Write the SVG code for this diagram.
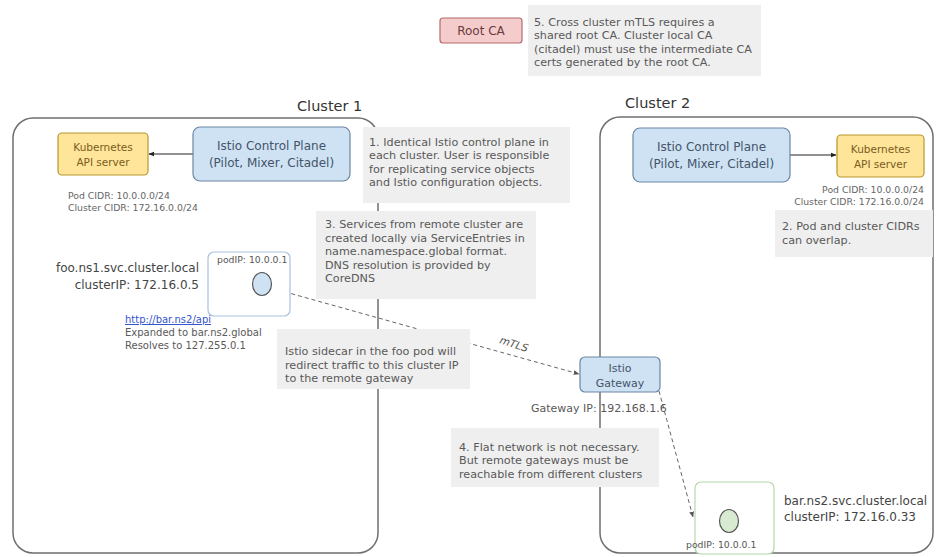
<svg xmlns="http://www.w3.org/2000/svg" width="936" height="557" viewBox="0 0 936 557">
<defs>
<marker id="arr" viewBox="0 0 10 10" refX="9" refY="5" markerWidth="6" markerHeight="6" orient="auto"><path d="M0,1 L10,5 L0,9 z" fill="#222"/></marker>
<marker id="arrd" viewBox="0 0 10 10" refX="9" refY="5" markerWidth="6" markerHeight="6" orient="auto"><path d="M0,1 L10,5 L0,9 z" fill="#555"/></marker>
</defs>
<style>
text{font-family:"DejaVu Sans","Open Sans",sans-serif}
.cl{fill:none;stroke:#6f6f6f;stroke-width:1.5}
.note{fill:#efefef}
.nt{font-size:11.2px;fill:#595959}
.blue{fill:#cfe2f3;stroke:#6a86a6;stroke-width:1.2}
.bt{font-size:12px;fill:#44546a;text-anchor:middle}
.yel{fill:#ffe599;stroke:#b8962e;stroke-width:1.2}
.yt{font-size:10.5px;fill:#7a5c1e;text-anchor:middle}
.cidr{font-size:9.3px;fill:#666}
.svc{font-size:12px;fill:#444}
.lbl{font-size:14.5px;fill:#333}
.pod{fill:#fff;stroke-width:1.2}
.sm{font-size:10px;fill:#595959}
.dash{fill:none;stroke:#666;stroke-width:1;stroke-dasharray:4,3}
.solid{fill:none;stroke:#222;stroke-width:1}
</style>
<rect width="936" height="557" fill="#fff"/>

<g id="cluster1">
<rect class="cl" x="13" y="118" width="365" height="435" rx="20"/>
<text class="lbl" x="297" y="111">Cluster 1</text>
</g>
<g id="cluster2">
<rect class="cl" x="600" y="117" width="333" height="436" rx="20"/>
<text class="lbl" x="625" y="108">Cluster 2</text>
</g>

<g id="connectors">
<line class="solid" x1="193" y1="154" x2="149" y2="154" marker-end="url(#arr)"/>
<line class="solid" x1="790" y1="155" x2="836" y2="155" marker-end="url(#arr)"/>
<line class="dash" x1="271" y1="288" x2="579" y2="374" marker-end="url(#arrd)"/>
<line class="dash" x1="659" y1="391" x2="693" y2="517" marker-end="url(#arrd)"/>
<text x="499" y="343" transform="rotate(18 499 343)" font-size="10.5" font-style="italic" fill="#555">mTLS</text>
</g>

<g id="root-ca">
<rect x="440" y="18" width="82" height="25" rx="3" fill="#f4cccc" stroke="#b36b6b" stroke-width="1.2"/>
<text x="481" y="35" font-size="12" fill="#6b3b3b" text-anchor="middle">Root CA</text>
</g>
<g id="note5">
<rect class="note" x="528" y="5" width="233" height="71"/>
<text class="nt"><tspan x="534" y="26">5. Cross cluster mTLS requires a</tspan><tspan x="534" y="39.3">shared root CA. Cluster local CA</tspan><tspan x="534" y="52.6">(citadel) must use the intermediate CA</tspan><tspan x="534" y="65.9">certs generated by the root CA.</tspan></text>
</g>

<g id="k8s1">
<rect class="yel" x="58" y="133" width="90" height="42" rx="4"/>
<text class="yt" x="103" y="151">Kubernetes</text>
<text class="yt" x="103" y="166">API server</text>
</g>
<g id="icp1">
<rect class="blue" x="193" y="127" width="157" height="54" rx="7"/>
<text class="bt" x="271.5" y="150">Istio Control Plane</text>
<text class="bt" x="271.5" y="167">(Pilot, Mixer, Citadel)</text>
</g>
<g id="cidr1">
<text class="cidr" x="68" y="199">Pod CIDR: 10.0.0.0/24</text>
<text class="cidr" x="68" y="211">Cluster CIDR: 172.16.0.0/24</text>
</g>

<g id="icp2">
<rect class="blue" x="633" y="128" width="157" height="54" rx="7"/>
<text class="bt" x="711.5" y="151">Istio Control Plane</text>
<text class="bt" x="711.5" y="168">(Pilot, Mixer, Citadel)</text>
</g>
<g id="k8s2">
<rect class="yel" x="837" y="135" width="87" height="42" rx="4"/>
<text class="yt" x="880.5" y="153">Kubernetes</text>
<text class="yt" x="880.5" y="168">API server</text>
</g>
<g id="cidr2">
<text class="cidr" x="924" y="193" text-anchor="end">Pod CIDR: 10.0.0.0/24</text>
<text class="cidr" x="924" y="205" text-anchor="end">Cluster CIDR: 172.16.0.0/24</text>
</g>

<g id="note1">
<rect class="note" x="363" y="127" width="207" height="76"/>
<text class="nt"><tspan x="369" y="146">1. Identical Istio control plane in</tspan><tspan x="369" y="159.3">each cluster. User is responsible</tspan><tspan x="369" y="172.6">for replicating service objects</tspan><tspan x="369" y="185.9">and Istio configuration objects.</tspan></text>
</g>
<g id="note2">
<rect class="note" x="775" y="210" width="158" height="47"/>
<text class="nt"><tspan x="782" y="230">2. Pod and cluster CIDRs</tspan><tspan x="782" y="244">can overlap.</tspan></text>
</g>
<g id="note3">
<rect class="note" x="316" y="211" width="220" height="88"/>
<text class="nt"><tspan x="325" y="228">3. Services from remote cluster are</tspan><tspan x="325" y="241.5">created locally via ServiceEntries in</tspan><tspan x="325" y="255">name.namespace.global format.</tspan><tspan x="325" y="268.5">DNS resolution is provided by</tspan><tspan x="325" y="282">CoreDNS</tspan></text>
</g>

<g id="foo-pod">
<text class="svc" x="199" y="272" text-anchor="end">foo.ns1.svc.cluster.local</text>
<text class="svc" x="199" y="289" text-anchor="end">clusterIP: 172.16.0.5</text>
<rect class="pod" x="208" y="252" width="82" height="64" rx="6" stroke="#a9c1dc"/>
<text x="217" y="263" font-size="9.3" fill="#555">podIP: 10.0.0.1</text>
<ellipse cx="262" cy="284" rx="9.5" ry="11.5" fill="#cfe2f3" stroke="#555" stroke-width="1.2"/>
<text x="125" y="323" class="sm" style="fill:#3355cc" text-decoration="underline">http://bar.ns2/api</text>
<text x="125" y="336" class="sm">Expanded to bar.ns2.global</text>
<text x="125" y="349" class="sm">Resolves to 127.255.0.1</text>
</g>

<g id="note-sidecar">
<rect class="note" x="277" y="329" width="193" height="60"/>
<text class="nt"><tspan x="285" y="355">Istio sidecar in the foo pod will</tspan><tspan x="285" y="368.5">redirect traffic to this cluster IP</tspan><tspan x="285" y="382">to the remote gateway</tspan></text>
</g>

<g id="gateway">
<rect class="blue" x="580" y="357" width="80" height="35" rx="5"/>
<text x="620" y="371.5" font-size="11" fill="#44546a" text-anchor="middle">Istio</text>
<text x="620" y="386.5" font-size="11" fill="#44546a" text-anchor="middle">Gateway</text>
<text x="531" y="412" font-size="11" fill="#595959">Gateway IP: 192.168.1.6</text>
</g>

<g id="note4">
<rect class="note" x="451" y="428" width="208" height="59"/>
<text class="nt"><tspan x="459" y="451">4. Flat network is not necessary.</tspan><tspan x="459" y="464.3">But remote gateways must be</tspan><tspan x="459" y="477.6">reachable from different clusters</tspan></text>
</g>

<g id="bar-pod">
<rect class="pod" x="695" y="482" width="79" height="72" rx="6" stroke="#b6d7a8"/>
<ellipse cx="729" cy="521" rx="9.5" ry="11.5" fill="#d9ead3" stroke="#555" stroke-width="1.2"/>
<text x="686" y="548" font-size="9.3" fill="#555">podIP: 10.0.0.1</text>
<text class="svc" x="784" y="505">bar.ns2.svc.cluster.local</text>
<text class="svc" x="784" y="521">clusterIP: 172.16.0.33</text>
</g>
</svg>
